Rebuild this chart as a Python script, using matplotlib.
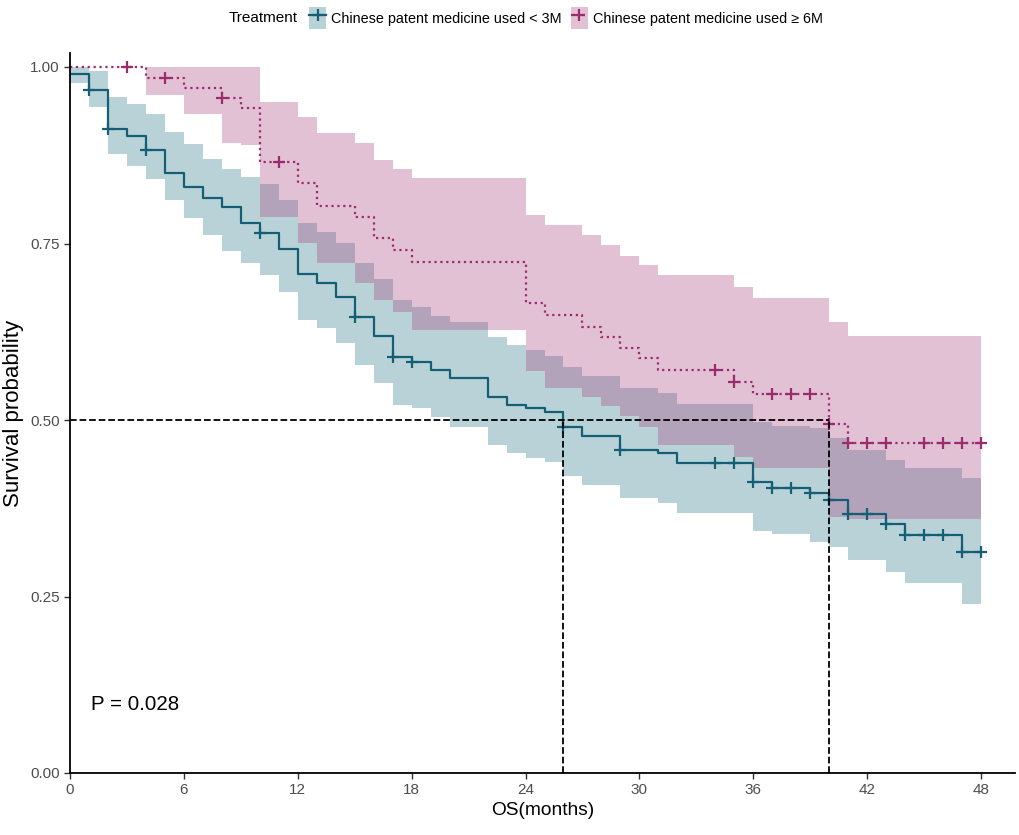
import matplotlib
matplotlib.use("Agg")
from matplotlib import pyplot as plt
from matplotlib.patches import Patch
from matplotlib.lines import Line2D
import numpy as np

plt.rcParams['font.family'] = ['Liberation Sans', 'DejaVu Sans']

# group 1: Chinese patent medicine used < 3M (teal, solid)
t_lo = [0, 1, 2, 3, 4, 5, 6, 7, 8, 9, 10, 11, 12, 13, 14, 15, 16, 17, 18, 19, 20, 22, 23, 24, 25, 26, 27, 29, 31, 32, 36, 37, 39, 40, 41, 43, 44, 47]
s_lo = [0.990, 0.967, 0.912, 0.902, 0.882, 0.850, 0.830, 0.814, 0.802, 0.779, 0.765, 0.742, 0.707, 0.694, 0.674, 0.646, 0.619, 0.589, 0.582, 0.571, 0.559, 0.533, 0.521, 0.517, 0.511, 0.490, 0.477, 0.458, 0.453, 0.439, 0.412, 0.403, 0.397, 0.387, 0.367, 0.353, 0.337, 0.313]
up_lo = [1.000, 0.995, 0.958, 0.947, 0.933, 0.908, 0.891, 0.870, 0.856, 0.844, 0.834, 0.812, 0.779, 0.766, 0.751, 0.722, 0.700, 0.670, 0.660, 0.648, 0.639, 0.618, 0.606, 0.599, 0.591, 0.575, 0.563, 0.545, 0.538, 0.522, 0.497, 0.492, 0.489, 0.475, 0.458, 0.443, 0.432, 0.418]
lw_lo = [0.977, 0.943, 0.877, 0.860, 0.841, 0.812, 0.786, 0.762, 0.740, 0.722, 0.706, 0.681, 0.642, 0.630, 0.609, 0.578, 0.552, 0.521, 0.517, 0.504, 0.490, 0.465, 0.453, 0.446, 0.441, 0.420, 0.408, 0.390, 0.382, 0.368, 0.343, 0.338, 0.327, 0.320, 0.302, 0.285, 0.269, 0.239]
cens_lo = [1, 2, 4, 10, 15, 17, 18, 26, 29, 34, 35, 36, 37, 38, 39, 40, 41, 42, 43, 44, 45, 46, 47, 48]

# group 2: Chinese patent medicine used >= 6M (magenta, dotted)
t_hi = [0, 4, 6, 8, 9, 10, 12, 13, 15, 16, 17, 18, 24, 25, 27, 28, 29, 30, 31, 35, 36, 40, 41]
s_hi = [1.000, 0.984, 0.970, 0.956, 0.942, 0.865, 0.836, 0.803, 0.788, 0.758, 0.741, 0.724, 0.666, 0.649, 0.632, 0.618, 0.602, 0.588, 0.571, 0.554, 0.537, 0.494, 0.467]
up_hi = [1.000, 1.000, 1.000, 1.000, 1.000, 0.951, 0.929, 0.906, 0.892, 0.868, 0.856, 0.843, 0.790, 0.776, 0.762, 0.748, 0.732, 0.720, 0.705, 0.688, 0.673, 0.639, 0.619]
lw_hi = [1.000, 0.960, 0.934, 0.892, 0.889, 0.788, 0.751, 0.722, 0.694, 0.670, 0.653, 0.627, 0.570, 0.545, 0.532, 0.520, 0.505, 0.490, 0.465, 0.448, 0.432, 0.362, 0.360]
cens_hi = [3, 5, 8, 11, 34, 35, 37, 38, 39, 40, 41, 42, 43, 45, 46, 47, 48]

t_end = 48
medians = [26, 40]
xticks = [0, 6, 12, 18, 24, 30, 36, 42, 48]
yticks = [0.00, 0.25, 0.50, 0.75, 1.00]

teal_fill, teal_line = "#166C80", "#155F74"
mag_fill, mag_line = "#A53476", "#9A2C6E"

fig = plt.figure(figsize=(10.2, 8.35), dpi=100)
ax = fig.add_axes([70 / 1020, 62 / 835, 945 / 1020, 720 / 835])


def draw_group(t, s, up, lo, cens, fcol, lcol, ls):
    tt = np.append(t, t_end)
    ss = np.append(s, s[-1])
    uu = np.append(up, up[-1])
    ll = np.append(lo, lo[-1])
    ax.fill_between(tt, ll, uu, step="post", color=fcol, alpha=0.3, lw=0)
    ax.step(tt, ss, where="post", color=lcol, lw=1.6, ls=ls)
    idx = np.searchsorted(t, cens, side="right") - 1
    ax.plot(cens, np.array(s)[idx], ls="none", marker="+", ms=9, mew=1.6, color=lcol)


draw_group(t_lo, s_lo, up_lo, lw_lo, cens_lo, teal_fill, teal_line, "-")
draw_group(t_hi, s_hi, up_hi, lw_hi, cens_hi, mag_fill, mag_line, ":")

# median lines
ax.plot([0, max(medians)], [0.5, 0.5], color="black", ls="--", lw=1.3)
for m in medians:
    ax.plot([m, m], [0, 0.5], color="black", ls="--", lw=1.3)

ax.text(1.1, 0.097, "P = 0.028", fontsize=14.8, va="center")

ax.set_xlim(0, 945 / 18.98)
ax.set_ylim(0, 720 / 706)
ax.set_xticks(xticks)
ax.set_yticks(yticks)
ax.set_yticklabels([f"{v:.2f}" for v in yticks])
ax.tick_params(labelsize=11, labelcolor="#4D4D4D", length=4, width=1, color="#333333")
for side in ["top", "right"]:
    ax.spines[side].set_visible(False)
for side in ["left", "bottom"]:
    ax.spines[side].set_linewidth(1.3)
ax.set_xlabel("OS(months)", fontsize=13.8, labelpad=3)
ax.set_ylabel("Survival probability", fontsize=16)
ax.yaxis.set_label_coords(-46 / 945, 0.5)

# legend at top
fig.text(263 / 1020, 1 - 18 / 835, "Treatment", fontsize=11, ha="center", va="center")
h1 = (Patch(facecolor=teal_fill, alpha=0.3, lw=0),
      Line2D([], [], color=teal_line, lw=1.6, marker="+", ms=9, mew=1.6))
h2 = (Patch(facecolor=mag_fill, alpha=0.3, lw=0),
      Line2D([], [], color=mag_line, lw=1.6, ls=":", marker="+", ms=9, mew=1.6))
fig.legend([h1, h2],
           ["Chinese patent medicine used < 3M", "Chinese patent medicine used \u2265 6M"],
           loc="center left", bbox_to_anchor=(296 / 1020, 1 - 18 / 835), ncol=2,
           frameon=False, fontsize=10.4, handlelength=1.2, handleheight=2.0,
           columnspacing=0.6, handletextpad=0.35)

fig.savefig("out.png", dpi=100)
